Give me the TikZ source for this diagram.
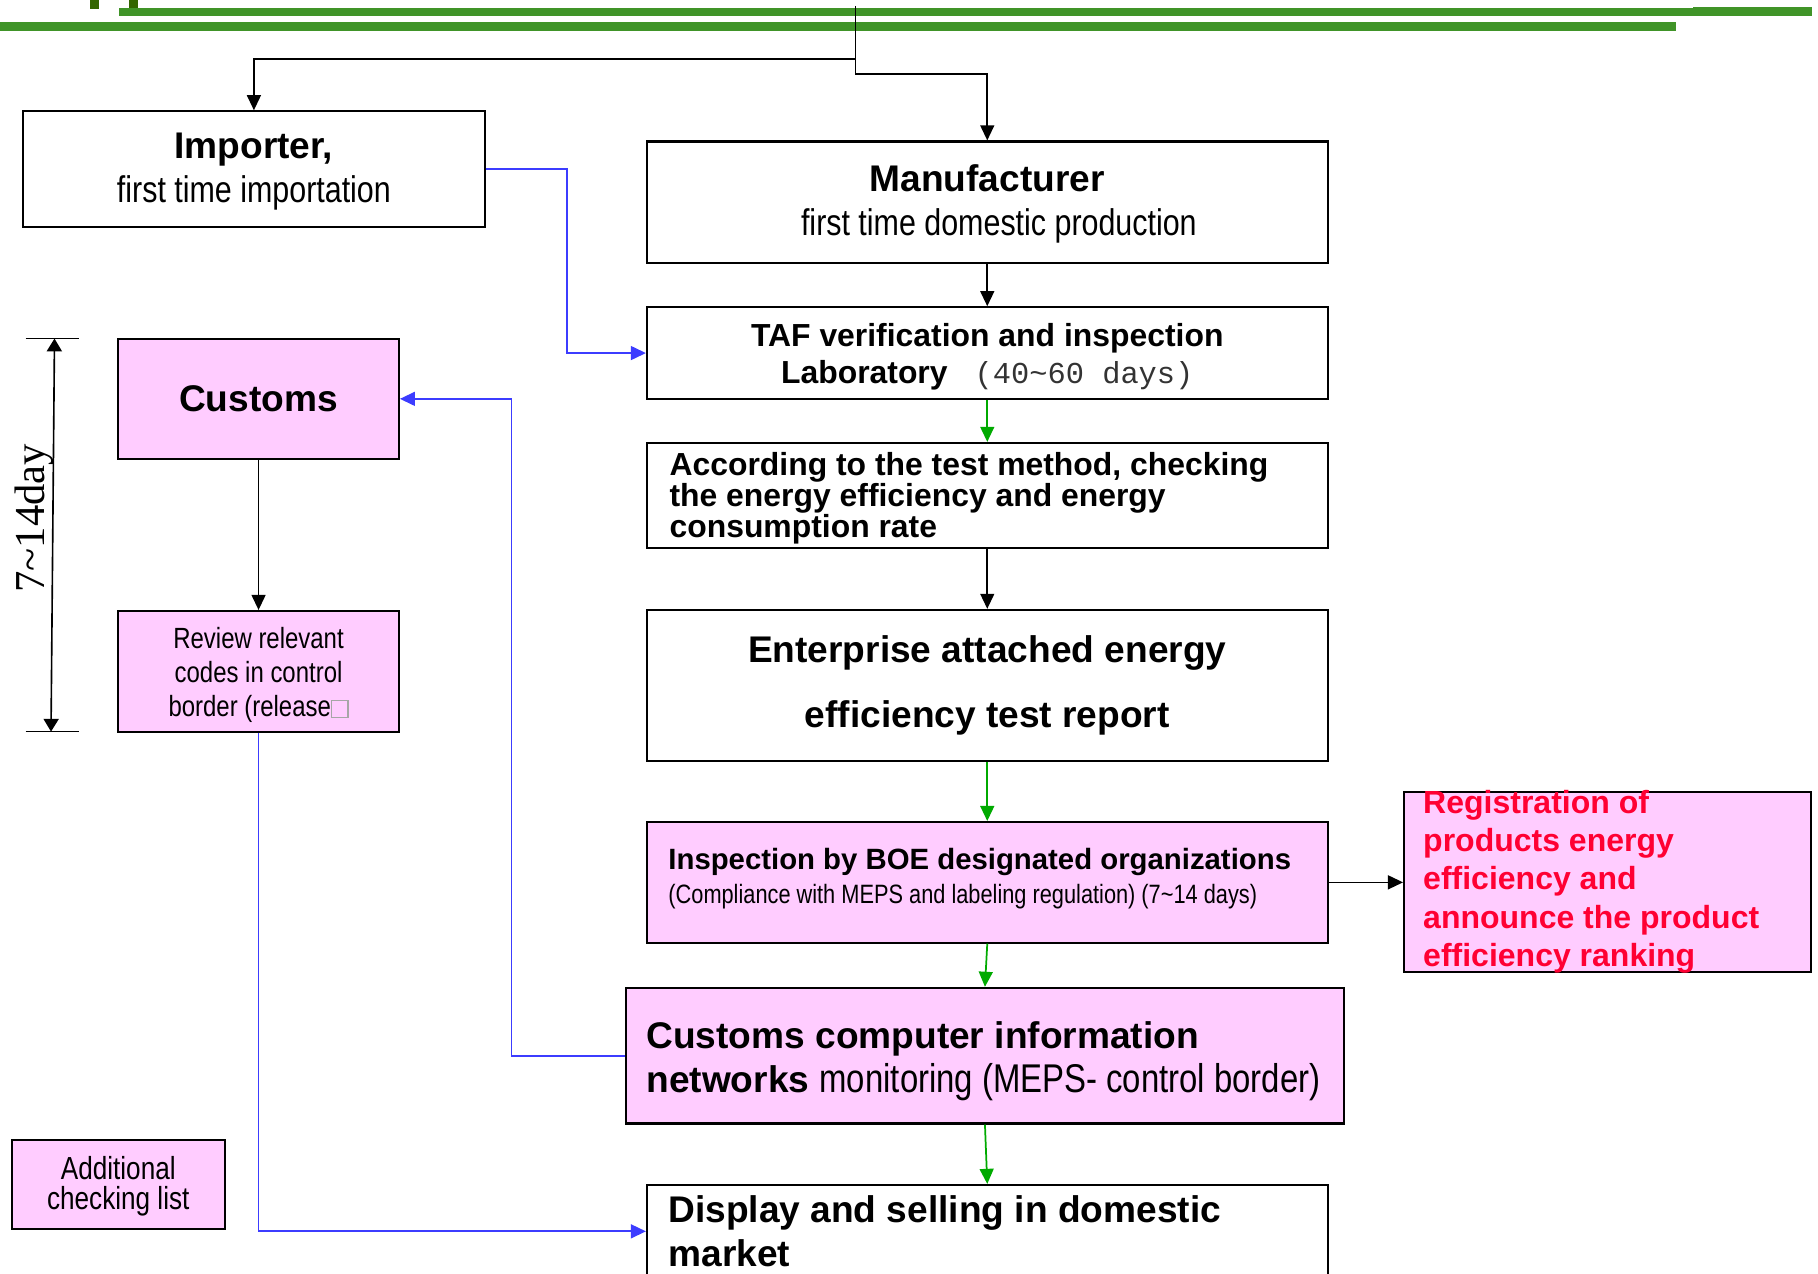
\documentclass[tikz,border=0pt]{standalone}
\usepackage{fontspec}
\setmainfont{Liberation Sans}
\newfontfamily\nar[FakeStretch=0.82]{Liberation Sans}
\newfontfamily\monof{Liberation Mono}
\newfontfamily\seriff{Liberation Serif}
\usetikzlibrary{arrows.meta}
\newcommand\fsz[2]{\fontsize{#1}{#2}\selectfont}
\newcommand\missingglyph{{\color{black!35}\fboxsep=0pt\fboxrule=0.6pt\fbox{\rule{0pt}{6.6pt}\hspace{6.4pt}}}}
\definecolor{pinkfill}{RGB}{255,204,255}
\definecolor{bargreen}{RGB}{64,148,40}
\definecolor{tickgreen}{RGB}{51,102,0}
\definecolor{lineblue}{RGB}{60,60,255}
\definecolor{arrgreen}{RGB}{0,170,0}
\definecolor{regred}{RGB}{255,0,51}
\tikzset{
  box/.style={draw=black, line width=0.9pt, rectangle, inner sep=0pt, fill=white},
  pbox/.style={box, fill=pinkfill},
  tip/.style={-{Triangle[length=6.5pt,width=6pt]}},
  blk/.style={tip, draw=black, line width=0.7pt},
  grn/.style={tip, draw=arrgreen, line width=0.75pt},
  blu/.style={tip, draw=lineblue, line width=0.8pt},
  txt/.style={inner sep=0pt, align=left, anchor=west},
  ctxt/.style={inner sep=0pt, align=center},
}
\begin{document}
\begin{tikzpicture}[x=0.5pt, y=-0.5pt]
\useasboundingbox (0,0) rectangle (1568,1098.8);
% green header bars
\fill[tickgreen] (78,0) rectangle (85,7.8);
\fill[tickgreen] (111,0) rectangle (119,7.8);
\fill[bargreen] (102.6,6.9) rectangle (1563,13.8);
\fill[bargreen] (1460,5.75) rectangle (1563,13.8);
\fill[bargreen] (0,19) rectangle (1445.5,27);

% boxes
\node[box, minimum width=199pt, minimum height=50pt] (imp) at (219,146) {};
\node[ctxt, font=\fsz{16pt}{19pt}] (imp-t) at ([yshift=-1pt]imp.center)
  {\bfseries Importer,\\ {\nar first time importation}};
\node[box, minimum width=293.5pt, minimum height=52.5pt] (man) at (851.5,174.5) {};
\node[ctxt, font=\fsz{16pt}{19pt}] (man-t) at ([yshift=-0.5pt]man.center)
  {\bfseries Manufacturer\\ \hspace*{10pt}{\nar first time domestic production}};
\node[box, minimum width=293.5pt, minimum height=39.5pt] (taf) at (851.5,304.5) {};
\node[ctxt, font=\fsz{13.75pt}{16pt}\bfseries] (taf-t) at ([yshift=-1.5pt]taf.center)
  {TAF verification and inspection\\ Laboratory {\monof\mdseries\fontsize{13.1pt}{16pt}\selectfont\color{black!80}\ (40\textasciitilde 60 days)}};
\node[box, minimum width=293.5pt, minimum height=45.5pt] (acc) at (851.5,427.5) {};
\node[txt, font=\fsz{13.75pt}{13.25pt}\bfseries] (acc-t) at ([xshift=10pt, yshift=-1.2pt]acc.west)
  {According to the test method, checking\\ the energy efficiency and energy\\ consumption rate};
\node[box, minimum width=293.5pt, minimum height=65pt] (ent) at (851.5,591) {};
\node[ctxt, font=\fsz{16pt}{28pt}\bfseries] (ent-t) at (ent.center)
  {Enterprise attached energy\\ efficiency test report};
\node[pbox, minimum width=293.5pt, minimum height=52pt] (boe) at (851.5,761) {};
\node[txt, font=\fsz{12.65pt}{14.5pt}] (boe-t) at ([xshift=9.5pt, yshift=1.5pt]boe.west)
  {\textbf{Inspection by BOE designated organizations}\\ {\nar\fontsize{11.45pt}{14.5pt}\selectfont (Compliance with MEPS and labeling regulation) (7\textasciitilde 14 days)}};
\node[pbox, minimum width=175.5pt, minimum height=77.5pt] (reg) at (1386.5,760.5) {};
\node[txt, text=regred, font=\fsz{13.8pt}{16.5pt}\bfseries] (reg-t) at ([xshift=8.5pt]reg.west)
  {Registration of\\ products energy\\ efficiency and\\ announce the product\\ efficiency ranking};
\node[pbox, minimum width=309.5pt, minimum height=58.5pt] (ccn) at (849.5,910.5) {};
\node[txt, font=\fsz{16pt}{19pt}] (ccn-t) at ([xshift=9pt, yshift=-2.2pt]ccn.west)
  {\textbf{Customs computer information}\\ \textbf{networks} {\nar\fontsize{17.3pt}{19pt}\selectfont monitoring (MEPS- control border)}};
\node[box, minimum width=293.5pt, minimum height=40pt] (dsp) at (851.5,1062) {};
\node[txt, font=\fsz{16pt}{19pt}\bfseries] (dsp-t) at ([xshift=9.5pt, yshift=0.2pt]dsp.west)
  {Display and selling in domestic\\ market};
\node[pbox, minimum width=121pt, minimum height=52pt, font=\fsz{16pt}{19pt}\bfseries] (cus) at (223,344) {Customs};
\node[pbox, minimum width=121pt, minimum height=52pt] (rev) at (223,579) {};
\node[ctxt, font=\nar\fsz{12.6pt}{14.75pt}] (rev-t) at ([yshift=-1.5pt]rev.center)
  {Review relevant\\ codes in control\\ border (release\missingglyph};
\node[pbox, minimum width=92pt, minimum height=38.5pt] (add) at (102,1021.5) {};
\node[ctxt, font=\nar\fsz{13.75pt}{13pt}] (add-t) at ([yshift=-0.8pt]add.center)
  {Additional\\ checking list};

% dimension
\coordinate (dt1) at (22,292); \coordinate (dt2) at (68,292);
\coordinate (db1) at (22,631); \coordinate (db2) at (68,631);
\coordinate (dimtop) at (47,292); \coordinate (dimbot) at (44,631);
\draw[line width=0.7pt] (dt1) -- (dt2);
\draw[line width=0.7pt] (db1) -- (db2);
\draw[line width=0.7pt, {Triangle[length=5.5pt,width=6.5pt]}-{Triangle[length=5.5pt,width=6.5pt]}] (dimtop) -- (dimbot);
\node[rotate=90, inner sep=0pt, font=\seriff\fsz{18.4pt}{20pt}] (dimlbl) at (30,447) {7\textasciitilde 14day};

% connectors
\coordinate (top) at (738,5);
\coordinate (split) at (738,51);
\coordinate (bend) at (738,64);
\draw[blk] (top) -- (split) -| (imp.north);
\draw[blk] (split) -- (bend) -| (man.north);
\draw[blk] (man) -- (taf);
\draw[blu] (imp.east) -- ++(70,0) |- (taf.west);
\draw[grn] (taf) -- (acc);
\draw[blk] (acc) -- (ent);
\draw[grn] (ent) -- (boe);
\draw[blk] (boe.east) -- (reg.west |- boe.east);
\draw[grn] (boe.south) -- (ccn.north);
\draw[grn] (ccn.south) -- (dsp.north);
\draw[blu] (ccn.west) -- ++(-98,0) |- (cus.east);
\draw[blk] (cus) -- (rev);
\draw[blu] (rev.south) |- (dsp.west);
\end{tikzpicture}
\end{document}
